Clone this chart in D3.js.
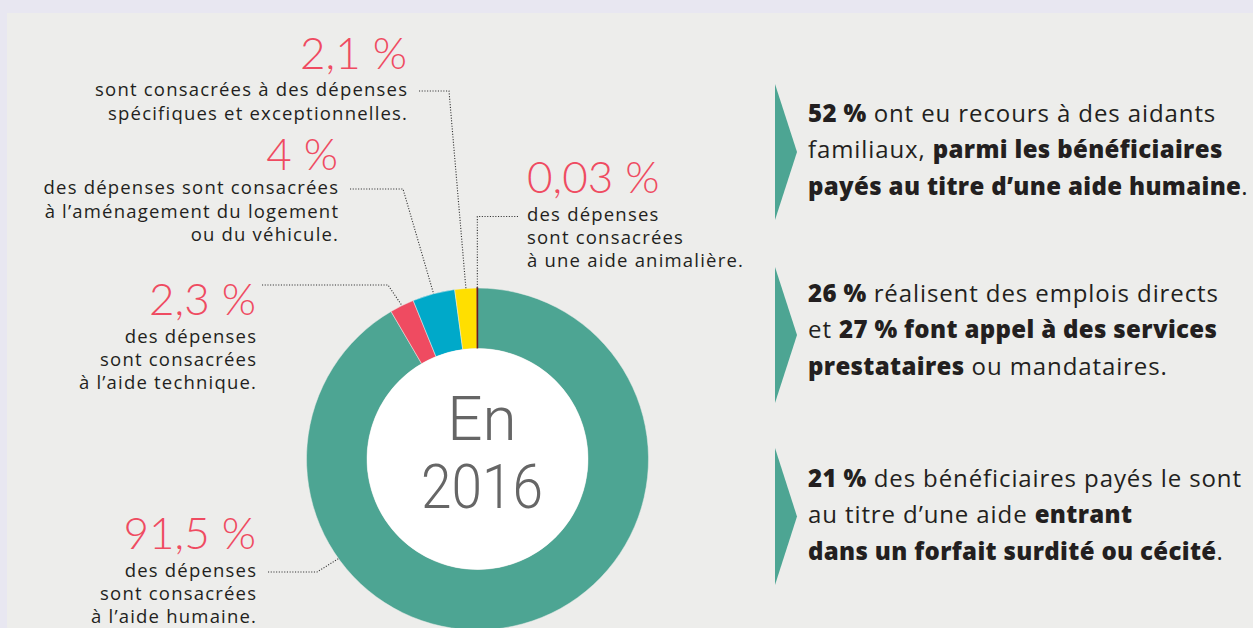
<!DOCTYPE html>
<html><head><meta charset="utf-8">
<script src="https://cdn.jsdelivr.net/npm/d3@7"></script>
<style>
html,body{margin:0;padding:0;background:#e8e7f1;}
svg{display:block;}
</style></head>
<body>
<svg id="chart" width="1253" height="628"></svg>
<script>
// ---- data ----
const categories = ["aide humaine", "aide technique", "aménagement du logement ou du véhicule", "dépenses spécifiques et exceptionnelles", "aide animalière"];
const values = [91.5, 2.3, 4, 2.1, 0.03];
const valueLabels = ["91,5 %", "2,3 %", "4 %", "2,1 %", "0,03 %"];
const labelTexts = [
  ["des dépenses", "sont consacrées", "à l’aide humaine."],
  ["des dépenses", "sont consacrées", "à l’aide technique."],
  ["des dépenses sont consacrées", "à l’aménagement du logement", "ou du véhicule."],
  ["sont consacrées à des dépenses", "spécifiques et exceptionnelles."],
  ["des dépenses", "sont consacrées", "à une aide animalière."]
];
const centerLines = ["En", "2016"];
// right-hand facts: each line is a list of [text, bold]
const facts = [
  [[["52 %", true], [" ont eu recours à des aidants", false]],
   [["familiaux, ", false], ["parmi les bénéficiaires", true]],
   [["payés au titre d’une aide humaine", true], [".", false]]],
  [[["26 %", true], [" réalisent des emplois directs", false]],
   [["et ", false], ["27 % font appel à des services", true]],
   [["prestataires", true], [" ou mandataires.", false]]],
  [[["21 %", true], [" des bénéficiaires payés le sont", false]],
   [["au titre d’une aide ", false], ["entrant", true]],
   [["dans un forfait surdité ou cécité", true], [".", false]]]
];

// ---- style / layout ----
const colors = ["#4da593", "#ef4b61", "#00a9c9", "#ffdf00", "#6e1b1e"];
const pink = "#ef4b61";
const cx = 477.5, cy = 459, R = 171, r = 110.5;
const numFont = "Lato, 'Open Sans', sans-serif";
const labelFont = "'Open Sans', Lato, sans-serif";
const labelLayout = [
  {anchor: "end",   x: 256, nb: 549, lb: 577, step: 23, elbow: 317, frac: 0.711},
  {anchor: "end",   x: 256, nb: 315, lb: 342.7, step: 23.3, elbow: 388, frac: 0.5, fromNumber: true},
  {anchor: "end",   x: 338, nb: 170, lb: 194, step: 23.5, elbow: 403, frac: 0.5},
  {anchor: "end",   x: 407, nb: 69,  lb: 96,  step: 23.5, elbow: 449, frac: 0.5},
  {anchor: "start", x: 527, nb: 193, lb: 221, step: 23, elbow: null, frac: 0.5}
];

const svg = d3.select("#chart");
svg.append("rect").attr("x", 0).attr("y", 0).attr("width", 1253).attr("height", 628).attr("fill", "#e8e7f1");
svg.append("rect").attr("x", 7).attr("y", 13).attr("width", 1246).attr("height", 615).attr("fill", "#ededeb");

const pie = d3.pie().sort(null).value(d => d)(values);
const arc = d3.arc().innerRadius(r).outerRadius(R);
const g = svg.append("g").attr("transform", `translate(${cx},${cy})`);
g.selectAll("path.slice").data(pie).join("path")
  .attr("class", "slice")
  .attr("d", arc)
  .attr("fill", (d, i) => colors[i])
  .attr("stroke", (d, i) => i === 4 ? colors[i] : "#ededeb")
  .attr("stroke-width", (d, i) => i === 4 ? 1.4 : 0.5);
g.append("circle").attr("r", r).attr("fill", "#ffffff");

const ct = g.append("text").attr("text-anchor", "middle").attr("fill", "#666666")
  .attr("font-family", "Roboto, 'Liberation Sans', sans-serif").attr("font-weight", 300).attr("font-size", 62);
ct.append("tspan").attr("x", 4.5).attr("y", -19).text(centerLines[0]);
ct.append("tspan").attr("x", 4.5).attr("y", 49).attr("textLength", 122).attr("lengthAdjust", "spacingAndGlyphs").text(centerLines[1]);

pie.forEach((d, i) => {
  const L = labelLayout[i];
  svg.append("text").attr("x", L.x).attr("y", L.nb).attr("text-anchor", L.anchor)
    .attr("fill", pink).attr("font-family", numFont).attr("font-weight", 300).attr("font-size", 44)
    .text(valueLabels[i]);
  const t = svg.append("text").attr("text-anchor", L.anchor).attr("fill", "#231f20")
    .attr("font-family", labelFont).attr("font-size", 18.5).attr("font-weight", 500)
    .attr("letter-spacing", 1.2);
  labelTexts[i].forEach((line, k) => {
    t.append("tspan").attr("x", L.x + (L.anchor === "end" ? 1.2 : 0)).attr("y", L.lb + k * L.step).text(line);
  });
  const a = d.startAngle + (d.endAngle - d.startAngle) * L.frac;
  const px = cx + R * Math.sin(a), py = cy - R * Math.cos(a);
  let pts;
  if (L.anchor === "end") {
    const sy = L.fromNumber ? L.nb - 30 : L.lb - 5;
    const sx = L.x + (L.fromNumber ? 6 : 12);
    pts = [[sx, sy], [L.elbow, sy], [px, py]];
  } else {
    const sy = L.lb - 4.5;
    pts = [[L.x - 9, sy], [px, sy], [px, py]];
  }
  svg.append("path").attr("d", d3.line()(pts)).attr("fill", "none")
    .attr("stroke", "#333").attr("stroke-width", 1.1).attr("stroke-dasharray", "1.1,1.6");
});

const factTop = [121.7, 301.7, 486.7];
const arrowSpan = [[84, 220], [267, 403], [448, 585]];
facts.forEach((f, i) => {
  const [y0, y1] = arrowSpan[i];
  svg.append("path").attr("d", d3.line()([[775, y0], [797, (y0 + y1) / 2], [775, y1]]) + "Z").attr("fill", colors[0]);
  const t = svg.append("text").attr("fill", "#231f20").attr("font-family", labelFont).attr("font-size", 24);
  f.forEach((line, k) => {
    const tl = t.append("tspan").attr("x", 808).attr("y", factTop[i] + k * 36.6);
    line.forEach(([s, b], j) => {
      const sp = j === 0 ? tl : t.append("tspan");
      sp.attr("font-weight", b ? 800 : 400).attr("letter-spacing", b ? 0.35 : 0.9).text(s);
    });
  });
});
</script>
</body></html>
